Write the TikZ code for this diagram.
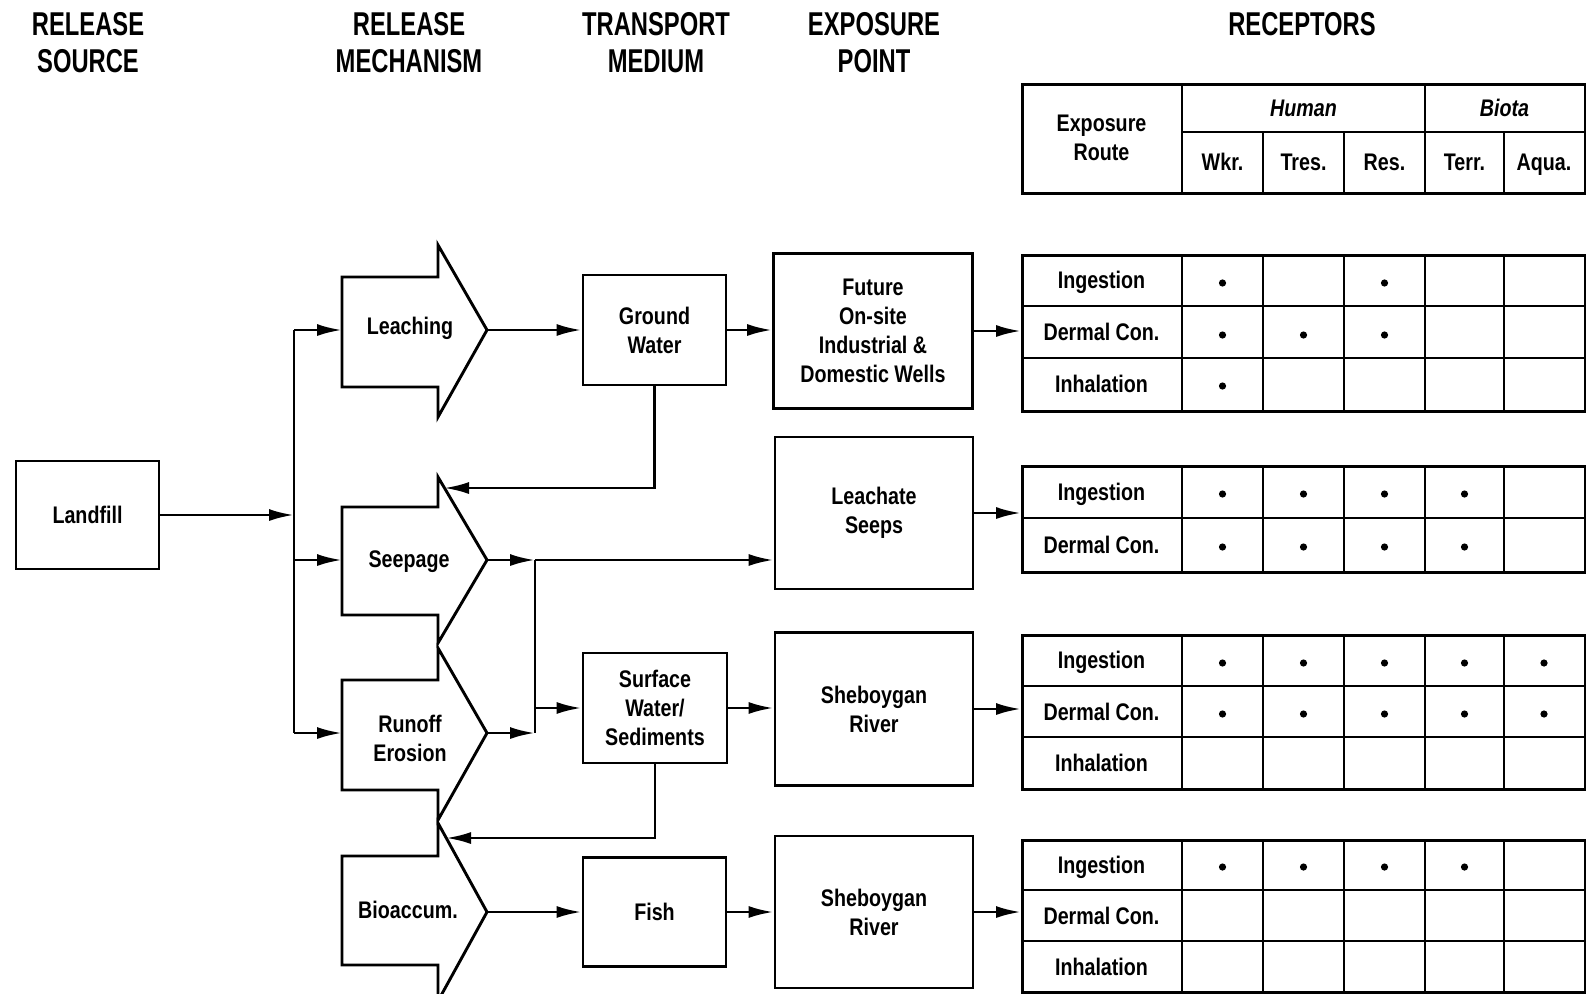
\documentclass[tikz,border=0pt]{standalone}
\usepackage{fontspec}
\newfontfamily\hfont[FakeStretch=0.72]{Liberation Sans}
\newfontfamily\bfont[FakeStretch=0.82]{Liberation Sans}
\usetikzlibrary{arrows.meta}
\begin{document}
\begin{tikzpicture}[x=1pt,y=-1pt, line width=2.9pt, line join=miter,
  hdr/.style={font=\hfont\bfseries\fontsize{33}{37}\selectfont, align=center, inner sep=0pt},
  lbl/.style={font=\bfont\bfseries\fontsize{24}{29}\selectfont, align=center, inner sep=0pt},
  ilbl/.style={lbl, font=\bfont\bfseries\itshape\fontsize{24}{29}\selectfont},
  box/.style={draw, line width=2.9pt, align=center, inner sep=0pt, font=\bfont\bfseries\fontsize{24}{29}\selectfont},
  blk/.style={draw, line width=2.9pt, fill=white},
  arr/.style={-{Latex[length=25pt,width=12pt]}, line width=2.9pt},
  tab/.style={draw, line width=2.9pt, anchor=north west, minimum width=563pt, inner sep=0pt}]
\useasboundingbox[fill=white] (0,0) rectangle (1586,993);

% ---------- column headers ----------
\node[hdr] (hsrc) at (88,42.5) {RELEASE\\SOURCE};
\node[hdr] (hmech) at (409,42.5) {RELEASE\\MECHANISM};
\node[hdr] (htrans) at (656,42.5) {TRANSPORT\\MEDIUM};
\node[hdr] (hexp) at (874,42.5) {EXPOSURE\\POINT};
\node[hdr] (hrec) at (1302,24) {RECEPTORS};

% ---------- release source ----------
\node[box, minimum width=143pt, minimum height=108pt] (landfill) at (87.5,515) {Landfill};

% ---------- block arrows (release mechanisms) ----------
\draw[blk] (342,277) -- (438,277) -- (438,245) -- (487,330) -- (438,417) -- (438,387) -- (342,387) -- cycle;
\draw[blk] (342,507) -- (438,507) -- (438,477) -- (487,560) -- (438,643) -- (438,615) -- (342,615) -- cycle;
\draw[blk] (342,680) -- (438,680) -- (438,648) -- (487,733) -- (438,820) -- (438,790) -- (342,790) -- cycle;
\draw[blk] (342,856) -- (438,856) -- (438,823) -- (487,912) -- (438,1001) -- (438,965) -- (342,965) -- cycle;
\node[lbl] (leaching) at (410,328) {Leaching};
\node[lbl] (seepage) at (409,562) {Seepage};
\node[lbl] (runoff) at (410,738) {Runoff\\Erosion};
\node[lbl] (bioacc) at (408,910) {Bioaccum.};

\coordinate (leachL) at (342,330);
\coordinate (seepL) at (342,560);
\coordinate (runL) at (342,733);
\coordinate (leachTip) at (487,330);
\coordinate (seepTip) at (487,560);
\coordinate (runTip) at (487,733);
\coordinate (bioTip) at (487,912);
\coordinate (seepHead) at (444,488);
\coordinate (bioHead) at (446,838);

% ---------- transport media ----------
\node[box, minimum width=143pt, minimum height=110pt] (gw) at (654.5,330) {Ground\\Water};
\node[box, minimum width=144pt, minimum height=110pt] (sw) at (655,708) {Surface\\Water/\\Sediments};
\node[box, minimum width=143pt, minimum height=109pt] (fish) at (654.5,912) {Fish};

% ---------- exposure points ----------
\node[box, minimum width=199pt, minimum height=155pt] (future) at (873,331) {Future\\On-site\\Industrial \&\\Domestic Wells};
\node[box, minimum width=198pt, minimum height=152pt] (leach) at (874,513) {Leachate\\Seeps};
\node[box, minimum width=198pt, minimum height=153pt] (sheb1) at (874,709) {Sheboygan\\River};
\node[box, minimum width=198pt, minimum height=152pt] (sheb2) at (874,912) {Sheboygan\\River};

% ---------- connectors ----------
\coordinate (busTop) at (294,330);
\coordinate (busBot) at (294,733);
\draw (busTop) -- (busBot);
\draw[arr] (landfill.east) -- (landfill.east -| busTop);
\draw[arr] (busTop) -- (leachL);
\draw[arr] (busTop |- seepL) -- (seepL);
\draw[arr] (busBot) -- (runL);

\coordinate (j1) at (535,560);
\coordinate (j2) at (535,733);
\coordinate (j3) at (535,708);
\draw (j1) -- (j2);
\draw[arr] (seepTip) -- (j1);
\draw[arr] (runTip) -- (j2);
\draw[arr] (j1) -- (j1 -| leach.west);
\draw[arr] (j3) -- (sw.west);
\draw[arr] (leachTip) -- (gw.west);
\draw[arr] (bioTip) -- (fish.west);
\draw[arr] (gw.south) |- (seepHead);
\draw[arr] (sw.south) |- (bioHead);

\draw[arr] (gw.east) -- (gw.east -| future.west);
\draw[arr] (sw.east) -- (sw.east -| sheb1.west);
\draw[arr] (fish.east) -- (fish.east -| sheb2.west);

% ---------- receptor tables ----------
% header
\node[tab, minimum height=109pt] (t0) at (1021,83) {};
\draw (1182,83) -- (1182,192);
\draw (1425,83) -- (1425,192);
\draw (1182,132) -- (1584,132);
\foreach \x in {1263,1344,1504} \draw (\x,132) -- (\x,192);
\node[lbl] (route) at (1101.5,137.5) {Exposure\\Route};
\node[ilbl, anchor=base] (human) at (1303.5,116) {Human};
\node[ilbl, anchor=base] (biota) at (1504.5,116) {Biota};
\node[lbl, anchor=base] (wkr) at (1222.5,170) {Wkr.};
\node[lbl, anchor=base] (tres) at (1303.5,170) {Tres.};
\node[lbl, anchor=base] (res) at (1384.5,170) {Res.};
\node[lbl, anchor=base] (terr) at (1464.5,170) {Terr.};
\node[lbl, anchor=base] (aqua) at (1544,170) {Aqua.};

% table 1
\node[tab, minimum height=156pt] (t1) at (1021,254) {};
\foreach \x in {1182,1263,1344,1425,1504} \draw (\x,254) -- (\x,410);
\foreach \y in {306,358} \draw (1021,\y) -- (1584,\y);
\node[lbl, anchor=base] (t1a) at (1101.5,288.5) {Ingestion};
\node[lbl, anchor=base] (t1b) at (1101.5,340.5) {Dermal Con.};
\node[lbl, anchor=base] (t1c) at (1101.5,392.5) {Inhalation};
\foreach \p in {(1222.5,283),(1384.5,283),(1222.5,335),(1303.5,335),(1384.5,335),(1222.5,386)} \fill \p circle (3.6pt);

% table 2
\node[tab, minimum height=106pt] (t2) at (1021,465) {};
\foreach \x in {1182,1263,1344,1425,1504} \draw (\x,465) -- (\x,571);
\draw (1021,518) -- (1584,518);
\node[lbl, anchor=base] (t2a) at (1101.5,500) {Ingestion};
\node[lbl, anchor=base] (t2b) at (1101.5,553) {Dermal Con.};
\foreach \x in {1222.5,1303.5,1384.5,1464.5} {\fill (\x,494) circle (3.6pt); \fill (\x,547) circle (3.6pt);}

% table 3
\node[tab, minimum height=154pt] (t3) at (1021,634) {};
\foreach \x in {1182,1263,1344,1425,1504} \draw (\x,634) -- (\x,788);
\foreach \y in {686,737} \draw (1021,\y) -- (1584,\y);
\node[lbl, anchor=base] (t3a) at (1101.5,668.5) {Ingestion};
\node[lbl, anchor=base] (t3b) at (1101.5,720) {Dermal Con.};
\node[lbl, anchor=base] (t3c) at (1101.5,771) {Inhalation};
\foreach \x in {1222.5,1303.5,1384.5,1464.5,1544} {\fill (\x,663) circle (3.6pt); \fill (\x,714) circle (3.6pt);}

% table 4
\node[tab, minimum height=152pt] (t4) at (1021,839) {};
\foreach \x in {1182,1263,1344,1425,1504} \draw (\x,839) -- (\x,991);
\foreach \y in {890,941} \draw (1021,\y) -- (1584,\y);
\node[lbl, anchor=base] (t4a) at (1101.5,873) {Ingestion};
\node[lbl, anchor=base] (t4b) at (1101.5,924) {Dermal Con.};
\node[lbl, anchor=base] (t4c) at (1101.5,975) {Inhalation};
\foreach \x in {1222.5,1303.5,1384.5,1464.5} \fill (\x,867) circle (3.6pt);

% exposure point -> tables
\draw[arr] (future.east) -- (future.east -| t1.west);
\draw[arr] (leach.east) -- (leach.east -| t2.west);
\draw[arr] (sheb1.east) -- (sheb1.east -| t3.west);
\draw[arr] (sheb2.east) -- (sheb2.east -| t4.west);
\end{tikzpicture}
\end{document}
